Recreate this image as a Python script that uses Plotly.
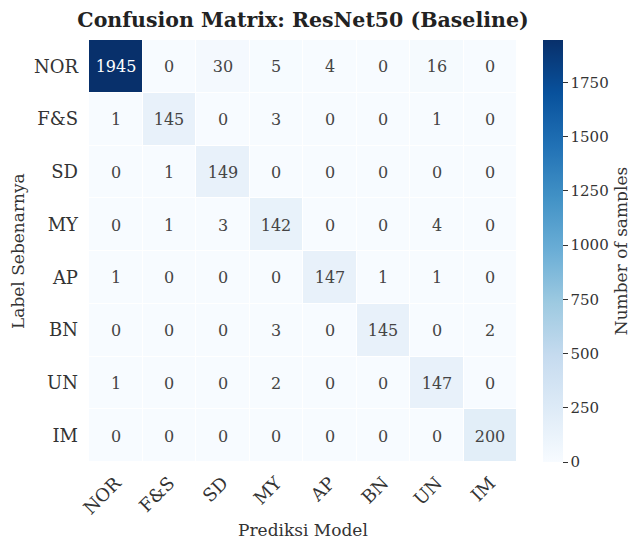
import plotly.graph_objects as go

labels = ["NOR", "F&S", "SD", "MY", "AP", "BN", "UN", "IM"]
matrix = [
    [1945, 0, 30, 5, 4, 0, 16, 0],
    [1, 145, 0, 3, 0, 0, 1, 0],
    [0, 1, 149, 0, 0, 0, 0, 0],
    [0, 1, 3, 142, 0, 0, 4, 0],
    [1, 0, 0, 0, 147, 1, 1, 0],
    [0, 0, 0, 3, 0, 145, 0, 2],
    [1, 0, 0, 2, 0, 0, 147, 0],
    [0, 0, 0, 0, 0, 0, 0, 200],
]
cbar_ticks = [0, 250, 500, 750, 1000, 1250, 1500, 1750]

FONT = "DejaVu Serif"
OFF = 8  # page body margin
W, H = 636 - OFF, 543 - OFF
L, T = 89 - OFF, 40 - OFF
R = W - (517 - OFF)
B = H - (462 - OFF)
pw = W - L - R
ph = H - T - B

fig = go.Figure(go.Heatmap(
    z=matrix, x=labels, y=labels,
    colorscale="Blues", zmin=0, zmax=max(max(r) for r in matrix),
    xgap=1, ygap=1,
    texttemplate="%{z}", textfont=dict(family=FONT, size=16),
    hoverinfo="skip",
    colorbar=dict(
        thickness=20, len=1, lenmode="fraction", y=0.5, yanchor="middle",
        x=(543 - OFF - L) / pw, xanchor="left", xpad=0, ypad=0, outlinewidth=0,
        tickvals=cbar_ticks, ticks="outside", ticklen=5, tickcolor="#333",
        tickfont=dict(family=FONT, size=15, color="#333"),
        title=dict(text="Number of samples", side="right",
                   font=dict(family=FONT, size=17, color="#333")),
    ),
))
fig.update_layout(
    width=W, height=H,
    margin=dict(l=L, r=R, t=T, b=B, autoexpand=False),
    paper_bgcolor="white", plot_bgcolor="white",
    font=dict(family=FONT, color="#333"),
    title=dict(text="<b>Confusion Matrix: ResNet50 (Baseline)</b>",
               x=0.5, xanchor="center", xref="paper",
               y=1 - (20 - OFF) / H, yanchor="middle", yref="container",
               font=dict(family=FONT, size=20.5, color="#222")),
    xaxis=dict(tickangle=-45, tickfont=dict(size=18), showgrid=False, ticks="",
               ticklabelstandoff=6, automargin=False),
    yaxis=dict(autorange="reversed", tickfont=dict(size=18), showgrid=False, ticks="",
               ticklabelstandoff=10, automargin=False),
    annotations=[
        dict(text="Prediksi Model", xref="paper", yref="paper", x=0.5,
             y=-(530 - 462) / ph, xanchor="center", yanchor="middle",
             showarrow=False, font=dict(family=FONT, size=17, color="#333")),
        dict(text="Label Sebenarnya", xref="paper", yref="paper",
             x=-(89 - 18) / pw, y=0.5, xanchor="center", yanchor="middle",
             textangle=-90, showarrow=False,
             font=dict(family=FONT, size=17, color="#333")),
    ],
)
fig.write_html("out.html")
